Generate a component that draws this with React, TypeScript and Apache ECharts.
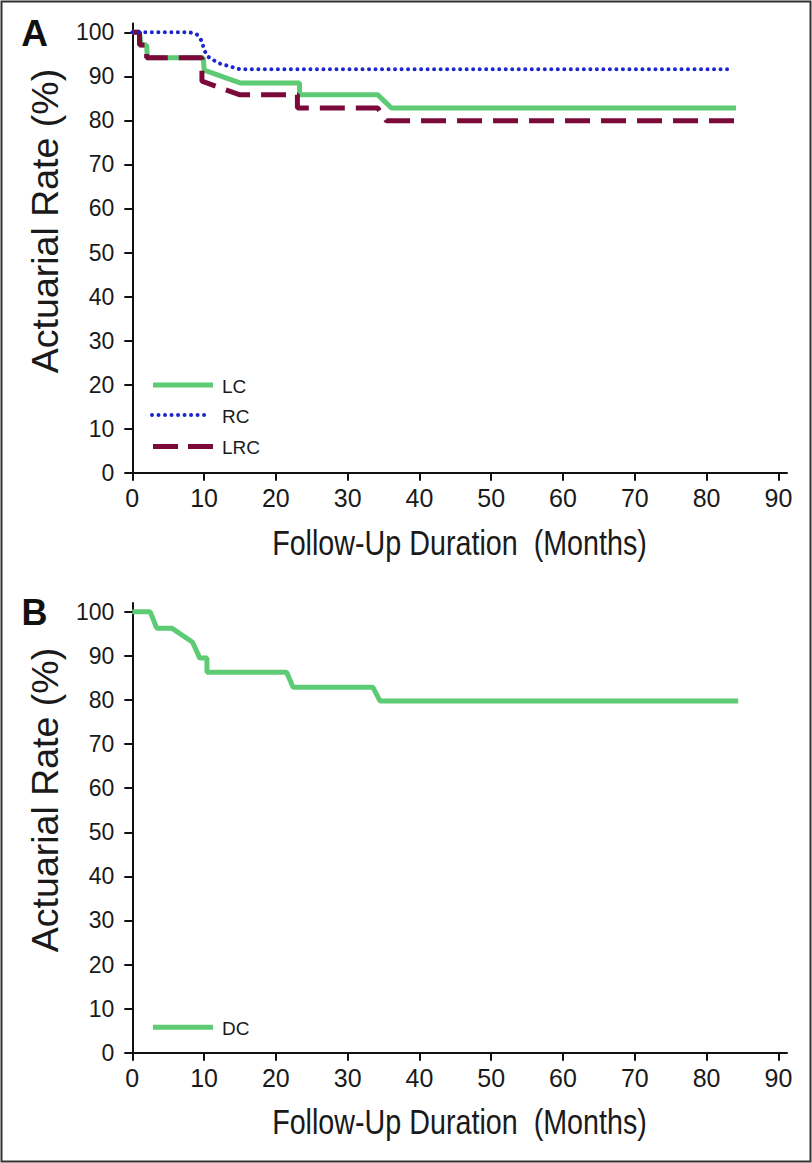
import React, { useEffect, useRef } from "react";
import * as echarts from "echarts";

// ---------- data ----------
const xTicks = [0, 10, 20, 30, 40, 50, 60, 70, 80, 90];
const yTicks = [0, 10, 20, 30, 40, 50, 60, 70, 80, 90, 100];
const xTitle = "Follow-Up Duration  (Months)";
const yTitle = "Actuarial Rate (%)";

// Panel A (month, actuarial rate %)
const lcA = [
  [0, 100], [1, 100], [1.2, 97.1], [2, 97.1], [2.1, 94.2], [9.9, 94.2], [10, 91.4],
  [15, 88.5], [23.3, 88.5], [23.3, 85.8], [34.2, 85.8], [36.1, 82.8], [84.1, 82.8],
];
const rcA = [
  [0, 100], [8, 100], [9, 99.5], [9.7, 98], [10, 96], [10.5, 94.5], [12, 93],
  [15, 91.6], [83.1, 91.6],
];
const lrcA = [
  [0, 100], [1, 100], [1, 97.1], [2, 97.1], [2, 94.2], [9.7, 94.2], [9.7, 88.9],
  [15, 85.8], [23, 85.8], [23, 82.8], [34.2, 82.8], [35.4, 79.9], [84.2, 79.9],
];
// Panel B
const dcB = [
  [0, 100], [2.5, 100], [3.4, 96.3], [5.5, 96.3], [8.4, 93.1], [9.4, 89.5], [10.4, 89.5],
  [10.4, 86.3], [21.5, 86.3], [22.4, 82.9], [33.5, 82.9], [34.5, 79.8], [84.4, 79.8],
];

const GREEN = "#5ccb74";
const MAROON = "#7b0a3b";
const BLUE = "#1b26cf";
const SANS = "'Liberation Sans', Arial, Helvetica, sans-serif";

function xAxisCfg(gridIndex: number) {
  return {
    type: "value",
    gridIndex,
    min: 0,
    max: 91.2,
    interval: 10,
    axisLine: { show: true, lineStyle: { color: "#111", width: 2 } },
    axisTick: { show: true, inside: false, length: 8, lineStyle: { color: "#111", width: 2 }, customValues: xTicks },
    axisLabel: { show: true, customValues: xTicks, fontFamily: SANS, fontSize: 25, color: "#1a1a1a", margin: 13 },
    splitLine: { show: false },
  };
}
function yAxisCfg(gridIndex: number) {
  return {
    type: "value",
    gridIndex,
    min: 0,
    max: 102,
    interval: 10,
    axisLine: { show: true, lineStyle: { color: "#111", width: 2 } },
    axisTick: { show: true, inside: false, length: 8, lineStyle: { color: "#111", width: 2 }, customValues: yTicks },
    axisLabel: { show: true, customValues: yTicks, fontFamily: SANS, fontSize: 23, color: "#1a1a1a", margin: 18 },
    splitLine: { show: false },
  };
}

export default function App() {
  const ref = useRef<HTMLDivElement>(null);
  useEffect(() => {
    if (!ref.current) return;
    const chart = echarts.init(ref.current, undefined, { renderer: "svg" });
    const legendText = (text: string, y: number) => ({
      type: "text",
      style: { text, x: 222, y, fontFamily: SANS, fontSize: 19, fill: "#1a1a1a", verticalAlign: "middle", align: "left" },
    });
    const yTitleText = (cy: number) => ({
      type: "text", x: 45, y: cy, rotation: Math.PI / 2,
      style: { text: yTitle, x: 0, y: 0, fontFamily: SANS, fontSize: 37.5, fill: "#1a1a1a", align: "center", verticalAlign: "middle" },
    });
    const xTitleText = (cy: number) => ({
      type: "text", x: 459.5, y: cy, scaleX: 0.82,
      style: { text: xTitle, x: 0, y: 0, fontFamily: SANS, fontSize: 35, fill: "#1a1a1a", align: "center", verticalAlign: "middle" },
    });
    chart.setOption({
      animation: false,
      backgroundColor: "#fff",
      grid: [
        { left: 132.3, top: 23.5, width: 654.7, height: 449.2 },
        { left: 132.3, top: 603, width: 654.7, height: 449.7 },
      ],
      xAxis: [xAxisCfg(0), xAxisCfg(1)],
      yAxis: [yAxisCfg(0), yAxisCfg(1)],
      series: [
        {
          name: "LC", type: "line", xAxisIndex: 0, yAxisIndex: 0, data: lcA, symbol: "none",
          lineStyle: { color: GREEN, width: 5 }, z: 2,
        },
        {
          name: "LRC", type: "line", xAxisIndex: 0, yAxisIndex: 0, data: lrcA, symbol: "none",
          lineStyle: { color: MAROON, width: 5, type: [25, 11] }, z: 3,
        },
        {
          name: "RC", type: "line", xAxisIndex: 0, yAxisIndex: 0, data: rcA, symbol: "none",
          lineStyle: { color: BLUE, width: 4, type: [0.01, 6.5], cap: "round" }, z: 4,
        },
        {
          name: "DC", type: "line", xAxisIndex: 1, yAxisIndex: 1, data: dcB, symbol: "none",
          lineStyle: { color: GREEN, width: 5 }, z: 2,
        },
      ],
      graphic: [
        { type: "rect", shape: { x: 1.5, y: 1.5, width: 809, height: 1160 }, style: { fill: "none", stroke: "#333", lineWidth: 2 }, silent: true },
        { type: "text", style: { text: "A", x: 34.5, y: 33.5, fontFamily: SANS, fontWeight: "bold", fontSize: 37, fill: "#111", align: "center", verticalAlign: "middle" } },
        { type: "text", style: { text: "B", x: 34.5, y: 612.5, fontFamily: SANS, fontWeight: "bold", fontSize: 36, fill: "#111", align: "center", verticalAlign: "middle" } },
        yTitleText(221),
        yTitleText(800),
        xTitleText(543),
        xTitleText(1122),
        // legend A
        { type: "line", shape: { x1: 153, y1: 385, x2: 213, y2: 385 }, style: { stroke: GREEN, lineWidth: 5 } },
        legendText("LC", 386),
        { type: "line", shape: { x1: 152, y1: 415, x2: 210, y2: 415 }, style: { stroke: BLUE, lineWidth: 4, lineDash: [0.01, 6.5], lineCap: "round" } },
        legendText("RC", 416),
        { type: "line", shape: { x1: 153, y1: 446.5, x2: 213, y2: 446.5 }, style: { stroke: MAROON, lineWidth: 5, lineDash: [25, 10] } },
        legendText("LRC", 447),
        // legend B
        { type: "line", shape: { x1: 153, y1: 1027.3, x2: 213, y2: 1027.3 }, style: { stroke: GREEN, lineWidth: 5 } },
        legendText("DC", 1028),
      ],
    });
    return () => chart.dispose();
  }, []);
  return <div ref={ref} style={{ position: "absolute", left: 0, top: 0, width: 812, height: 1163 }} />;
}
